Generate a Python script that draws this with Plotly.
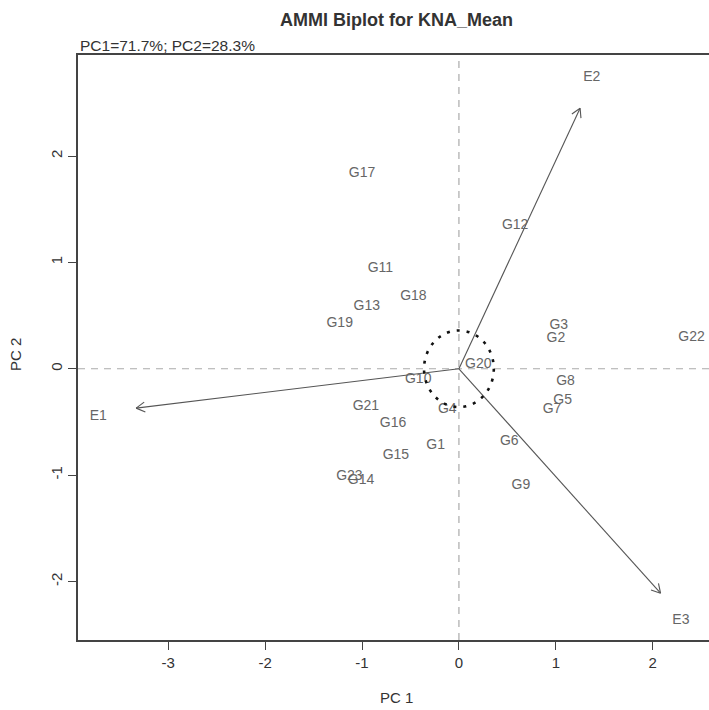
import math
import plotly.graph_objects as go

# ---- data ----
genotypes = ["G1","G2","G3","G4","G5","G6","G7","G8","G9","G10","G11","G12",
             "G13","G14","G15","G16","G17","G18","G19","G20","G21","G22","G23"]
gen_pc1 = [-0.24, 1.00, 1.03, -0.12, 1.07, 0.52, 0.96, 1.10, 0.64, -0.42, -0.81, 0.58,
           -0.95, -1.01, -0.65, -0.68, -1.00, -0.47, -1.23, 0.20, -0.96, 2.40, -1.13]
gen_pc2 = [-0.72, 0.28, 0.41, -0.38, -0.30, -0.68, -0.38, -0.12, -1.10, -0.10, 0.94, 1.35,
           0.59, -1.05, -0.82, -0.51, 1.84, 0.68, 0.43, 0.04, -0.35, 0.29, -1.01]

environments = ["E1", "E2", "E3"]
env_pc1 = [-3.33, 1.25, 2.08]
env_pc2 = [-0.37, 2.45, -2.11]
env_lab_pc1 = [-3.72, 1.37, 2.29]
env_lab_pc2 = [-0.45, 2.74, -2.37]

circle_radius = 0.36
x_ticks = [-3, -2, -1, 0, 1, 2]
y_ticks = [-2, -1, 0, 1, 2]

title = "AMMI Biplot for KNA_Mean"
subtitle = "PC1=71.7%; PC2=28.3%"

# ---- layout geometry ----
W, H = 709, 710
ML, MR, MT, MB = 78, 0, 55, 70
xr = [-3.93, 2.58]
yr = [-2.55, 2.95]
pw = W - ML - MR
ph = H - MT - MB
sx = pw / (xr[1] - xr[0])
sy = ph / (yr[1] - yr[0])

FONT = "Liberation Sans, Arial, sans-serif"
fig = go.Figure()

# environment arrows
arrow_color = "#555555"
for ex, ey in zip(env_pc1, env_pc2):
    fig.add_trace(go.Scatter(x=[0, ex], y=[0, ey], mode="lines",
                             line=dict(color=arrow_color, width=1.1),
                             hoverinfo="skip", showlegend=False))
    ang = math.atan2(ey * sy, ex * sx)
    L = 10
    for d in (math.radians(150), math.radians(-150)):
        wx = ex + L * math.cos(ang + d) / sx
        wy = ey + L * math.sin(ang + d) / sy
        fig.add_trace(go.Scatter(x=[ex, wx], y=[ey, wy], mode="lines",
                                 line=dict(color=arrow_color, width=1.1),
                                 hoverinfo="skip", showlegend=False))

# genotype labels
fig.add_trace(go.Scatter(x=gen_pc1, y=gen_pc2, mode="text", text=genotypes,
                         textfont=dict(family=FONT, size=14, color="#666666"),
                         textposition="middle center", showlegend=False,
                         cliponaxis=False))
# environment labels
fig.add_trace(go.Scatter(x=env_lab_pc1, y=env_lab_pc2, mode="text", text=environments,
                         textfont=dict(family=FONT, size=14, color="#666666"),
                         textposition="middle center", showlegend=False,
                         cliponaxis=False))

shapes = [
    dict(type="line", xref="x", yref="paper", x0=0, x1=0, y0=0, y1=1,
         line=dict(color="#aaaaaa", width=1.2, dash="7px,6px"), layer="below"),
    dict(type="line", xref="paper", yref="y", x0=0, x1=1, y0=0, y1=0,
         line=dict(color="#aaaaaa", width=1.2, dash="7px,6px"), layer="below"),
    dict(type="circle", xref="x", yref="y", x0=-circle_radius, x1=circle_radius,
         y0=-circle_radius, y1=circle_radius,
         line=dict(color="#111111", width=2.6, dash="3px,7px")),
]

annotations = [
    dict(text="<b>" + title + "</b>", xref="paper", yref="paper",
         x=(396 - ML) / pw, y=1 + (MT - 20.5) / ph, showarrow=False,
         font=dict(family=FONT, size=18, color="#333333"), xanchor="center", yanchor="middle"),
    dict(text=subtitle, xref="paper", yref="paper", x=0, y=1 + (MT - 45) / ph,
         showarrow=False, font=dict(family=FONT, size=15.5, color="#333333"),
         xanchor="left", yanchor="middle"),
    dict(text="PC 1", xref="paper", yref="paper", x=(396 - ML) / pw,
         y=-(697 - (MT + ph)) / ph, showarrow=False,
         font=dict(family=FONT, size=15, color="#333333"), xanchor="center", yanchor="middle"),
    dict(text="PC 2", xref="paper", yref="paper", x=(15 - ML) / pw,
         y=(MT + ph - 355) / ph, showarrow=False, textangle=-90,
         font=dict(family=FONT, size=15, color="#333333"), xanchor="center", yanchor="middle"),
]

fig.update_layout(
    width=W, height=H,
    margin=dict(l=ML, r=MR, t=MT, b=MB, pad=0),
    paper_bgcolor="white", plot_bgcolor="white",
    shapes=shapes, annotations=annotations,
    showlegend=False,
    xaxis=dict(range=xr, tickvals=x_ticks, ticktext=[str(v) for v in x_ticks],
               showgrid=False, zeroline=False, showline=True, mirror=True,
               linecolor="#444444", linewidth=1.5, ticks="outside", ticklen=8,
               tickwidth=1.3, tickcolor="#444444",
               tickfont=dict(family=FONT, size=15, color="#333333")),
    yaxis=dict(range=yr, tickvals=y_ticks, ticktext=[str(v) for v in y_ticks],
               showgrid=False, zeroline=False, showline=True, mirror=False,
               linecolor="#444444", linewidth=1.5, ticks="outside", ticklen=8,
               tickwidth=1.3, tickcolor="#444444", tickangle=-90,
               tickfont=dict(family=FONT, size=15, color="#333333")),
)

fig.write_html("out.html", config={"displayModeBar": False},
               post_script="document.body.style.margin='0';document.body.style.overflow='hidden';")
